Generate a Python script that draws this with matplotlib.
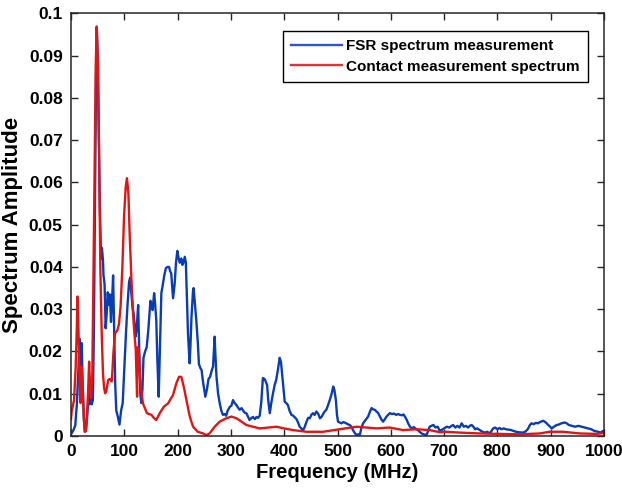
import matplotlib
matplotlib.use("Agg")
import matplotlib.pyplot as plt

fsr_freq = [0, 2, 5, 8, 11, 14, 16, 18, 20, 22, 24, 26, 28, 30, 33, 35, 37, 39, 41, 43,
            45, 47, 48.5, 50, 52, 54, 56, 57, 58, 60, 61, 63, 65, 67, 69, 71, 73, 75, 77, 79,
            81, 83, 85, 88, 91, 94, 97, 100, 103, 106, 109, 111, 113, 116, 118, 121, 123, 126, 128, 130,
            132, 134, 136, 139, 142, 145, 149, 151, 153, 156, 158, 160, 162, 164.5, 167, 169.5, 172.5, 175, 178, 181,
            184, 186, 188, 190, 191.5, 194.5, 197, 199.5, 202, 204, 207, 209, 211, 213.5, 215.5, 217, 219.5, 222.5, 224, 226,
            229, 230, 232, 235, 238, 240, 243, 245, 248, 250, 252, 255, 258, 261, 264, 266.5, 268, 269.5, 271, 273,
            276, 279, 282, 285, 288, 291, 294, 298, 301, 304, 307, 310.5, 313, 316.5, 320, 323, 326, 329, 332, 335,
            338, 341.5, 345, 348, 351, 354, 357, 360, 363, 365, 368, 370, 373, 376, 379, 382, 385, 388, 391.5, 394,
            397, 401, 404, 407, 410, 413.5, 417, 420, 423, 426, 429, 432, 435.5, 438, 442, 445, 448, 451, 454, 457,
            460.5, 464, 467, 470, 473, 476, 479, 482, 485.5, 489, 492, 494, 497, 499, 501, 504, 507.5, 511, 515, 519,
            523, 526, 529, 532, 535.5, 539, 542, 545, 548, 551, 554, 557.5, 561, 564, 567, 570, 573, 576, 579.5, 582,
            585.5, 589, 592, 595, 598, 602, 606, 610, 614, 617, 621, 624, 626.5, 630, 632.5, 636, 639, 643, 646, 651,
            654, 658, 662, 667, 670, 673, 676, 680, 684, 688, 692, 695, 700, 705, 710, 714, 717, 721, 725, 729,
            733, 737, 741, 745, 748, 751.6, 755, 758, 762, 767, 772, 776.6, 781, 785.6, 789, 792, 796, 800, 804, 807.5,
            812, 816, 821, 826, 830, 835, 840, 847.6, 852, 857, 861, 864, 868, 872, 876, 880, 886, 890, 895.5, 899,
            902, 906, 911, 915, 920, 926.7, 930, 934, 940, 946, 952, 958, 964, 970, 976, 982, 989, 994, 998, 1000]
fsr_amp = [0.0005, 0.0008, 0.0015, 0.0025, 0.0075, 0.016, 0.023, 0.015, 0.022, 0.012, 0.004, 0.001, 0.0012, 0.004, 0.0095, 0.0075, 0.0105, 0.0075, 0.0085, 0.025,
           0.055, 0.085, 0.0962, 0.090, 0.072, 0.055, 0.0445, 0.042, 0.0445, 0.0415, 0.038, 0.036, 0.0255, 0.029, 0.034, 0.031, 0.0335, 0.027, 0.032, 0.038,
           0.025, 0.012, 0.006, 0.0045, 0.0027, 0.006, 0.0078, 0.016, 0.024, 0.031, 0.0365, 0.0375, 0.034, 0.030, 0.0285, 0.0235, 0.025, 0.031, 0.020, 0.010,
           0.0078, 0.011, 0.0185, 0.020, 0.021, 0.025, 0.032, 0.031, 0.0298, 0.0338, 0.031, 0.0274, 0.018, 0.0093, 0.022, 0.0338, 0.036, 0.038, 0.0397, 0.040,
           0.040, 0.039, 0.0385, 0.035, 0.0326, 0.036, 0.041, 0.0438, 0.042, 0.041, 0.042, 0.0405, 0.041, 0.0424, 0.041, 0.035, 0.0243, 0.0172, 0.021, 0.028,
           0.0345, 0.035, 0.032, 0.0275, 0.022, 0.017, 0.016, 0.0156, 0.0125, 0.011, 0.0093, 0.011, 0.0135, 0.014, 0.0155, 0.0164, 0.020, 0.0235, 0.019, 0.014,
           0.010, 0.0078, 0.006, 0.005, 0.0052, 0.0048, 0.006, 0.0069, 0.0072, 0.0085, 0.0078, 0.0073, 0.0068, 0.0062, 0.0066, 0.0060, 0.0055, 0.0054, 0.0046, 0.0038,
           0.0042, 0.0045, 0.0040, 0.0045, 0.0043, 0.0048, 0.008, 0.0137, 0.0135, 0.013, 0.012, 0.0085, 0.0054, 0.008, 0.0101, 0.012, 0.0133, 0.0155, 0.0185, 0.0175,
           0.0135, 0.0081, 0.0078, 0.0073, 0.006, 0.005, 0.0048, 0.0044, 0.0040, 0.0032, 0.0022, 0.0018, 0.0014, 0.002, 0.0034, 0.0043, 0.0042, 0.005, 0.0054, 0.0050,
           0.0058, 0.0052, 0.0042, 0.0045, 0.0052, 0.0058, 0.0062, 0.0072, 0.0085, 0.0100, 0.0117, 0.011, 0.0085, 0.005, 0.0034, 0.0032, 0.003, 0.0033, 0.0031, 0.0028,
           0.0026, 0.0022, 0.0014, 0.0008, 0.0002, 0.0004, 0.0003, 0.002, 0.003, 0.0035, 0.004, 0.0046, 0.0058, 0.0066, 0.0063, 0.0062, 0.0058, 0.0055, 0.0046, 0.0040,
           0.0034, 0.0040, 0.0046, 0.0050, 0.0054, 0.0052, 0.0053, 0.0050, 0.0052, 0.005, 0.0049, 0.0051, 0.0046, 0.0038, 0.003, 0.0022, 0.0018, 0.0021, 0.0018, 0.0014,
           0.001, 0.0006, 0.0004, 0.0002, 0.0012, 0.0022, 0.0024, 0.0026, 0.0020, 0.0022, 0.0012, 0.0014, 0.0018, 0.0022, 0.0020, 0.0024, 0.0026, 0.0020, 0.0024, 0.0020,
           0.003, 0.0022, 0.0024, 0.0020, 0.0024, 0.0026, 0.0022, 0.0016, 0.0018, 0.0014, 0.0010, 0.0008, 0.0010, 0.0006, 0.0012, 0.0018, 0.0020, 0.0016, 0.0019, 0.0016,
           0.0018, 0.0016, 0.0015, 0.0014, 0.0012, 0.0010, 0.0009, 0.0008, 0.0010, 0.0016, 0.0026, 0.003, 0.0028, 0.0031, 0.0030, 0.0033, 0.0036, 0.0033, 0.0026, 0.0022,
           0.0018, 0.0022, 0.0026, 0.0027, 0.0030, 0.0032, 0.0030, 0.0026, 0.0024, 0.0022, 0.0024, 0.0022, 0.0020, 0.0018, 0.0016, 0.0012, 0.0010, 0.0008, 0.0012, 0.0009]

# contact measurement spectrum (red)
contact_freq = [0, 1.3, 5.7, 8.8, 11, 12, 13.5, 16.3, 18, 20, 22, 24, 26, 28, 30, 32, 34, 35.7, 37.5, 40,
                43, 46.4, 48.2, 50.7, 52.6, 55, 57.6, 60, 62, 64, 66, 67.6, 70, 73, 76.4, 78, 79.5, 82.6, 87, 90,
                93, 96.4, 99.5, 102.7, 105, 107.7, 110, 113.4, 116.4, 118.5, 121.5, 124, 125, 127, 130, 135, 142.6, 151, 156, 160,
                166.5, 174, 182, 191.4, 197.7, 202.7, 207, 211.5, 216.6, 222.8, 229, 238, 247.8, 254, 260, 269.6, 279, 291.6, 301, 310.5,
                320, 329, 341.5, 354, 370, 385, 400, 416.5, 442, 473, 504, 535.6, 555, 573, 598, 623, 648, 673, 692, 704,
                730, 767, 804, 842, 879, 898, 923, 955, 986, 1000]
contact_amp = [0.004, 0.0058, 0.0085, 0.0164, 0.026, 0.033, 0.028, 0.0125, 0.0078, 0.0164, 0.011, 0.005, 0.001, 0.0015, 0.005, 0.0101, 0.0176, 0.0117, 0.009, 0.0148,
               0.048, 0.0874, 0.0969, 0.0874, 0.0677, 0.040, 0.0243, 0.0148, 0.0115, 0.0101, 0.0105, 0.0117, 0.0133, 0.0135, 0.0129, 0.016, 0.0196, 0.0243, 0.025, 0.0265,
               0.0306, 0.040, 0.0519, 0.059, 0.061, 0.0574, 0.048, 0.037, 0.029, 0.025, 0.0204, 0.0093, 0.021, 0.0207, 0.0125, 0.0077, 0.0054, 0.005, 0.0042, 0.0038,
               0.0054, 0.0069, 0.0077, 0.0097, 0.0125, 0.014, 0.014, 0.0117, 0.0085, 0.0046, 0.0022, 0.001, 0.0006, 0.0002, 0.0006, 0.0022, 0.0034, 0.0042, 0.0046, 0.0042,
               0.0034, 0.0026, 0.0022, 0.0018, 0.002, 0.0022, 0.0018, 0.0014, 0.001, 0.001, 0.0016, 0.0022, 0.002, 0.0018, 0.002, 0.0014, 0.0016, 0.0014, 0.0009, 0.001,
               0.0008, 0.0006, 0.0005, 0.0004, 0.0006, 0.001, 0.001, 0.0006, 0.0005, 0.0007]

x_ticks = [0, 100, 200, 300, 400, 500, 600, 700, 800, 900, 1000]
y_ticks = [0, 0.01, 0.02, 0.03, 0.04, 0.05, 0.06, 0.07, 0.08, 0.09, 0.1]
y_tick_labels = ["0", "0.01", "0.02", "0.03", "0.04", "0.05", "0.06", "0.07", "0.08", "0.09", "0.1"]

plt.rcParams["font.family"] = ["Liberation Sans", "DejaVu Sans"]
plt.rcParams["font.weight"] = "bold"

fig = plt.figure(figsize=(6.22, 4.95), dpi=100)
ax = fig.add_axes([71 / 622, 59 / 495, 533 / 622, 422.6 / 495])

ax.plot(fsr_freq, fsr_amp, color="#0a3cb4", linewidth=1.7, label="FSR spectrum measurement")
ax.plot(contact_freq, contact_amp, color="#e01515", linewidth=1.7, label="Contact measurement spectrum")

ax.set_xlim(0, 1000)
ax.set_ylim(0, 0.1)
ax.set_xticks(x_ticks)
ax.set_xticklabels([str(t) for t in x_ticks])
ax.set_yticks(y_ticks)
ax.set_yticklabels(y_tick_labels)

ax.tick_params(direction="in", length=5, width=1, top=True, right=True,
               labelsize=12.5, colors="#262626", pad=6)
for lab in ax.get_xticklabels() + ax.get_yticklabels():
    lab.set_fontweight("bold")
    lab.set_color("black")
for spine in ax.spines.values():
    spine.set_linewidth(1.1)
    spine.set_color("#262626")

ax.set_xlabel("Frequency (MHz)", fontsize=14.5, fontweight="bold", labelpad=3)
ax.set_ylabel("Spectrum Amplitude", fontsize=16, fontweight="bold", labelpad=4)

leg = ax.legend(loc="upper left", bbox_to_anchor=(283 / 622, 1 - 31 / 495),
                bbox_transform=fig.transFigure, borderaxespad=0,
                fontsize=11, fancybox=False, framealpha=1, edgecolor="black",
                handlelength=3.3, handletextpad=0.3, borderpad=0.55, labelspacing=0.4)
leg.get_frame().set_linewidth(1.0)
leg.get_lines()[0].set_color("#2f55d0")
leg.get_lines()[1].set_color("#e83030")
for t in leg.get_texts():
    t.set_fontweight("bold")

fig.savefig("out.png", dpi=100)
